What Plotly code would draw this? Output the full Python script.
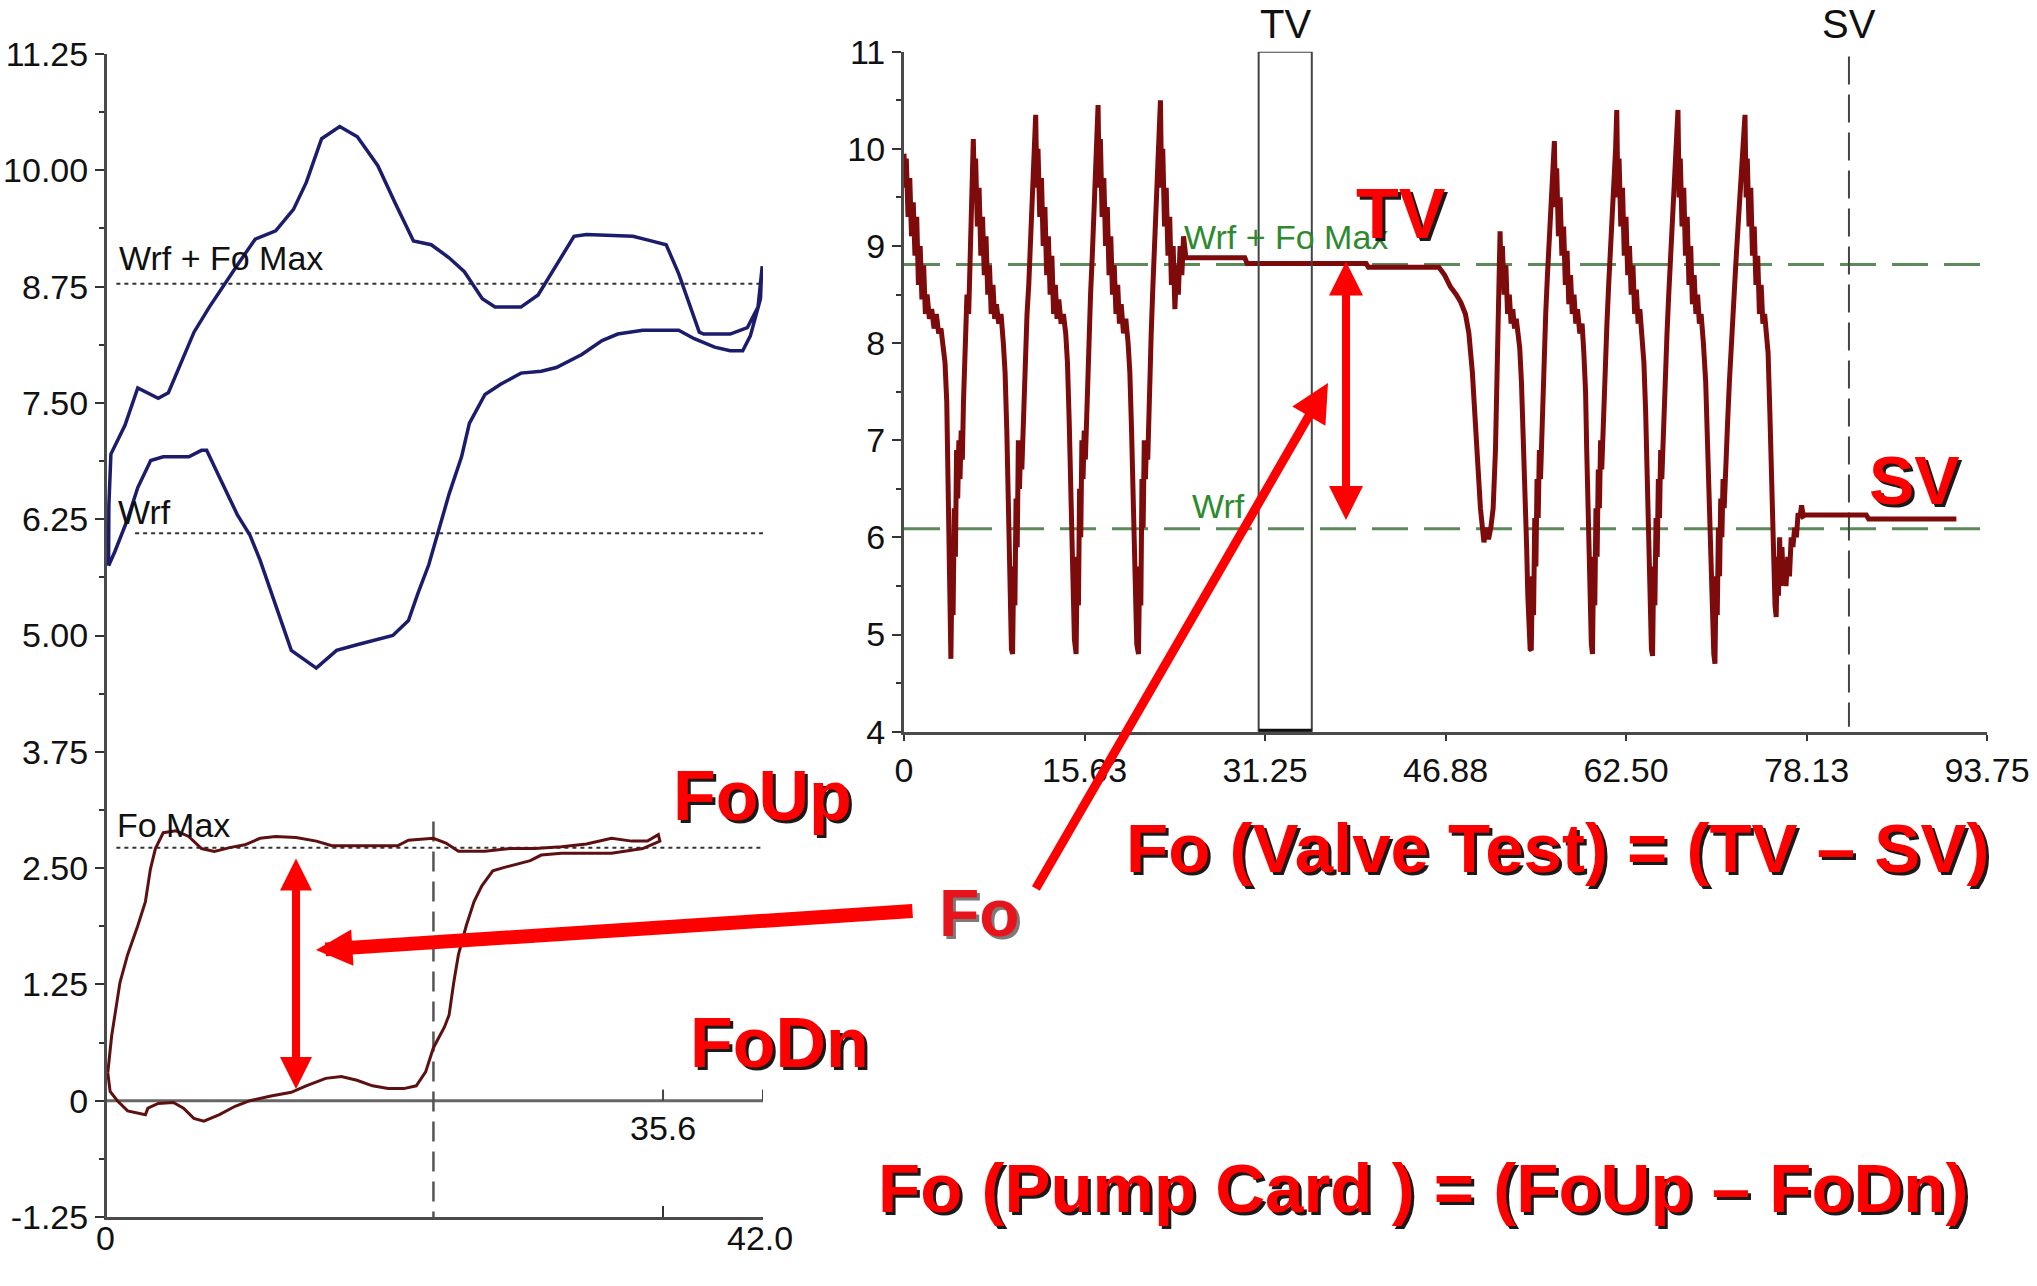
import plotly.graph_objects as go

W, H = 2037, 1286

# ---------------- data: surface card (blue, left chart) ----------------
SURF_X = [0.10, 0.12, 0.25, 1.15, 1.97, 2.6, 3.28, 3.93, 4.58, 5.57, 6.55, 7.69, 8.5, 9.49, 10.8,
          11.94, 12.76, 13.74, 14.9, 16.03, 17.34, 18.47, 19.62, 20.76, 21.9, 22.88, 24.03, 24.84,
          26.5, 27.6, 28.77, 29.9, 30.7, 33.67, 34.65, 35.8, 36.6, 37.3, 37.92, 38.2, 39.9, 41.0,
          41.68, 41.95,
          41.9, 41.84, 41.19, 40.7, 39.9, 38.9, 37.6, 36.6, 35.3, 34.3, 32.7, 31.7, 30.4, 28.77,
          27.8, 26.5, 25.2, 24.2, 23.2, 22.7, 21.9, 21.2, 20.6, 19.9, 19.3, 18.3, 17.3, 16.0, 14.7,
          13.4, 11.8, 10.8, 9.8, 9.15, 8.34, 7.2, 6.38, 6.05, 5.24, 3.6, 2.8, 1.97, 1.32, 0.5, 0.10]
SURF_Y = [5.75, 6.4, 6.95, 7.26, 7.66, 7.61, 7.55, 7.61, 7.86, 8.26, 8.53, 8.82, 9.02, 9.26, 9.35,
          9.58, 9.87, 10.34, 10.47, 10.36, 10.05, 9.64, 9.24, 9.2, 9.06, 8.91, 8.62, 8.53,
          8.53, 8.66, 8.98, 9.29, 9.31, 9.29, 9.25, 9.2, 8.89, 8.57, 8.26, 8.24, 8.24, 8.31,
          8.53, 8.97,
          8.88, 8.62, 8.22, 8.06, 8.06, 8.1, 8.19, 8.28, 8.28, 8.28, 8.24, 8.17, 8.02, 7.88,
          7.84, 7.82, 7.7, 7.59, 7.28, 6.92, 6.52, 6.12, 5.76, 5.45, 5.16, 5.0, 4.96, 4.9, 4.84,
          4.65, 4.84, 5.32, 5.81, 6.08, 6.3, 6.7, 6.99, 6.99, 6.92, 6.92, 6.88, 6.59, 6.25, 5.9, 5.75]

# ---------------- data: downhole pump card (brown, left chart) ----------------
DOWN_UP_X = [0.05, 0.3, 0.83, 1.32, 1.97, 2.46, 2.78, 3.1, 3.6, 4.42, 5.23, 6.05, 6.87, 7.85, 8.83,
             9.8, 10.8, 12.1, 13.4, 14.4, 16.0, 18.6, 19.3, 20.9, 21.7, 22.5, 24.2, 25.8, 27.4,
             29.1, 30.7, 32.3, 33.6, 34.6, 35.3]
DOWN_UP_Y = [0.3, 0.7, 1.27, 1.57, 1.88, 2.14, 2.49, 2.71, 2.88, 2.9, 2.84, 2.71, 2.68, 2.72, 2.75,
             2.82, 2.84, 2.83, 2.79, 2.74, 2.74, 2.74, 2.8, 2.82, 2.77, 2.68, 2.68, 2.71, 2.71,
             2.73, 2.76, 2.82, 2.79, 2.79, 2.86]
DOWN_LO_X = [35.4, 34.3, 32.3, 30.7, 29.1, 27.8, 27.1, 25.5, 24.7, 24.0, 23.5, 23.0, 22.5, 22.2,
             21.9, 21.6, 20.9, 20.4, 19.8, 19.0, 18.0, 17.0, 16.0, 15.0, 14.0, 12.75, 11.8, 10.5,
             9.15, 8.2, 7.2, 6.2, 5.56, 4.9, 4.25, 3.28, 2.62, 2.46, 1.97, 1.32, 0.66, 0.2, 0.05]
DOWN_LO_Y = [2.79, 2.71, 2.66, 2.66, 2.66, 2.64, 2.58, 2.51, 2.47, 2.31, 2.14, 1.88, 1.57, 1.27,
             0.92, 0.79, 0.57, 0.31, 0.16, 0.13, 0.13, 0.16, 0.22, 0.26, 0.24, 0.16, 0.09, 0.05,
             0.0, -0.06, -0.15, -0.22, -0.19, -0.08, -0.02, -0.03, -0.08, -0.15, -0.13, -0.11,
             0.0, 0.1, 0.3]

# reference levels (left chart)
WRF_FO_MAX_L = 8.78
WRF_L = 6.10
FO_MAX_L = 2.72
LEFT_Y_TICKS = [11.25, 10.0, 8.75, 7.5, 6.25, 5.0, 3.75, 2.5, 1.25, 0, -1.25]
LEFT_Y_TEXT = ["11.25", "10.00", "8.75", "7.50", "6.25", "5.00", "3.75", "2.50", "1.25", "0", "-1.25"]
LEFT_X_TICKS = [0, 35.6, 42.0]
LEFT_X_TEXT = ["0", "", "42.0"]
STROKE_POS = 35.6
CURSOR_L = 20.9

# ---------------- data: valve test trace (right chart), (time, load) pairs ----------------
SEG_A = [(0.0, 9.95), (0.1, 9.6), (0.2, 9.9), (0.35, 9.3), (0.5, 9.7), (0.65, 9.1), (0.8, 9.45),
         (0.95, 8.9), (1.1, 9.3), (1.25, 8.6), (1.4, 9.0), (1.55, 8.45), (1.7, 8.8), (1.85, 8.3),
         (2.0, 8.5), (2.2, 8.25), (2.4, 8.35), (2.6, 8.15), (2.8, 8.3), (3.0, 8.1), (3.2, 8.15),
         (3.4, 7.95), (3.55, 7.8), (3.7, 7.4), (3.8, 6.6), (3.9, 5.9), (4.0, 5.2), (4.06, 4.75),
         (4.15, 5.6), (4.25, 5.2), (4.35, 6.3), (4.45, 5.8), (4.55, 6.9), (4.65, 6.4), (4.75, 7.0),
         (4.85, 6.6), (4.95, 7.1), (5.05, 6.8), (5.15, 7.4), (5.3, 7.9), (5.45, 8.5), (5.6, 8.3),
         (5.75, 9.2), (5.9, 9.6), (6.0, 10.1)]
SEG_B = [(6.1, 9.5), (6.2, 9.9), (6.35, 9.2), (6.5, 9.6), (6.65, 8.9), (6.8, 9.3), (6.95, 8.7),
         (7.1, 9.1), (7.25, 8.5), (7.4, 8.8), (7.55, 8.3), (7.7, 8.6), (7.85, 8.25), (8.0, 8.4),
         (8.2, 8.2), (8.4, 8.3), (8.6, 8.0), (8.75, 7.7), (8.9, 7.1), (9.0, 6.4), (9.1, 5.7),
         (9.2, 5.1), (9.3, 4.85), (9.4, 4.8),
         (9.5, 5.7), (9.6, 5.3), (9.7, 6.4), (9.8, 5.9), (9.9, 7.0), (10.0, 6.5), (10.1, 7.0),
         (10.2, 6.7), (10.35, 7.4), (10.5, 7.8), (10.65, 8.3), (10.8, 8.6), (10.95, 9.0),
         (11.1, 9.4), (11.25, 9.8), (11.4, 10.35)]
SEG_C = [(11.5, 9.6), (11.6, 10.0), (11.75, 9.3), (11.9, 9.7), (12.05, 9.0), (12.2, 9.4),
         (12.35, 8.7), (12.5, 9.1), (12.65, 8.5), (12.8, 8.9), (12.95, 8.3), (13.1, 8.6),
         (13.25, 8.25), (13.4, 8.45), (13.6, 8.2), (13.8, 8.3), (14.0, 8.1), (14.15, 7.8),
         (14.3, 7.2), (14.45, 6.5), (14.55, 5.9), (14.65, 5.3), (14.75, 4.95), (14.9, 4.8),
         (15.0, 5.8), (15.1, 5.3), (15.2, 6.5), (15.3, 6.0), (15.4, 7.0), (15.5, 6.6), (15.6, 7.1),
         (15.7, 6.8), (15.85, 7.5), (16.0, 8.0), (16.15, 8.5), (16.3, 8.9), (16.45, 9.3),
         (16.6, 9.8), (16.7, 10.1), (16.8, 10.45)]
SEG_D = [(16.9, 9.6), (17.0, 10.1), (17.15, 9.3), (17.3, 9.7), (17.45, 9.0), (17.6, 9.4),
         (17.75, 8.7), (17.9, 9.1), (18.05, 8.5), (18.2, 8.8), (18.35, 8.3), (18.5, 8.6),
         (18.65, 8.2), (18.8, 8.4), (19.0, 8.1), (19.2, 8.25), (19.4, 8.0), (19.55, 7.7),
         (19.7, 7.1), (19.85, 6.4), (19.95, 5.8), (20.05, 5.2), (20.15, 4.9), (20.3, 4.8),
         (20.4, 5.7), (20.5, 5.3), (20.6, 6.6), (20.7, 6.1), (20.8, 7.0), (20.9, 6.6), (21.0, 7.0),
         (21.1, 6.8), (21.25, 7.6), (21.4, 8.1), (21.55, 8.6), (21.7, 9.0), (21.85, 9.4),
         (22.0, 9.9), (22.1, 10.2), (22.2, 10.5)]
SEG_E = [(22.3, 9.6), (22.4, 10.0), (22.55, 9.2), (22.7, 9.6), (22.85, 8.9), (23.0, 9.3),
         (23.15, 8.6), (23.3, 9.0), (23.45, 8.35), (23.6, 8.8), (23.75, 8.5), (23.9, 9.0),
         (24.05, 8.7), (24.2, 9.1), (24.4, 8.88), (29.5, 8.88), (29.7, 8.82), (40.0, 8.82),
         (40.2, 8.78), (46.3, 8.78)]
SEG_F = [(46.8, 8.7), (47.3, 8.58), (47.8, 8.5), (48.2, 8.42), (48.6, 8.3), (48.9, 8.1),
         (49.2, 7.7), (49.5, 7.2), (49.7, 6.7), (49.9, 6.3), (50.05, 6.05), (50.2, 5.95),
         (50.4, 6.1), (50.6, 5.98), (50.8, 6.1), (51.0, 6.3), (51.2, 6.9), (51.35, 7.8),
         (51.5, 8.7), (51.6, 9.15)]
SEG_G = [(51.7, 8.6), (51.8, 9.0), (51.95, 8.5), (52.1, 8.8), (52.25, 8.3), (52.4, 8.5),
         (52.55, 8.2), (52.7, 8.35), (52.85, 8.15), (53.0, 8.25), (53.15, 8.1), (53.3, 7.95),
         (53.45, 7.6), (53.6, 7.1), (53.75, 6.5), (53.9, 5.9), (54.0, 5.4), (54.1, 5.0),
         (54.2, 4.85), (54.3, 4.84),
         (54.4, 5.6), (54.5, 5.2), (54.6, 6.2), (54.7, 5.7), (54.8, 6.6), (54.9, 6.2), (55.0, 6.9),
         (55.1, 6.6), (55.25, 7.3), (55.4, 7.8), (55.55, 8.3), (55.7, 8.7), (55.85, 9.1),
         (56.0, 9.5), (56.15, 9.8), (56.3, 10.08)]
SEG_H = [(56.4, 9.4), (56.5, 9.8), (56.65, 9.1), (56.8, 9.5), (56.95, 8.9), (57.1, 9.2),
         (57.25, 8.6), (57.4, 8.95), (57.55, 8.4), (57.7, 8.7), (57.85, 8.3), (58.0, 8.5),
         (58.15, 8.2), (58.3, 8.35), (58.5, 8.1), (58.7, 8.2), (58.85, 7.9), (59.0, 7.5),
         (59.1, 6.9), (59.2, 6.3), (59.3, 5.7), (59.4, 5.2), (59.5, 4.9), (59.6, 4.8),
         (59.7, 5.8), (59.8, 5.3), (59.9, 6.3), (60.0, 5.8), (60.1, 6.7), (60.2, 6.3), (60.3, 7.0),
         (60.4, 6.7), (60.55, 7.3), (60.7, 7.7), (60.85, 8.2), (61.0, 8.6), (61.15, 8.9),
         (61.3, 9.3), (61.45, 9.7), (61.6, 10.0), (61.7, 10.4)]
SEG_I = [(61.8, 9.5), (61.9, 9.9), (62.05, 9.2), (62.2, 9.6), (62.35, 8.9), (62.5, 9.3),
         (62.65, 8.7), (62.8, 9.0), (62.95, 8.5), (63.1, 8.8), (63.25, 8.3), (63.4, 8.55),
         (63.55, 8.2), (63.7, 8.35), (63.9, 8.1), (64.05, 7.8), (64.2, 7.3), (64.3, 6.7),
         (64.4, 6.1), (64.5, 5.5), (64.6, 5.1), (64.7, 4.85), (64.8, 4.78),
         (64.9, 5.7), (65.0, 5.3), (65.1, 6.2), (65.2, 5.8), (65.3, 6.6), (65.4, 6.2), (65.5, 6.9),
         (65.6, 6.6), (65.75, 7.2), (65.9, 7.7), (66.05, 8.1), (66.2, 8.5), (66.35, 8.9),
         (66.5, 9.3), (66.65, 9.6), (66.8, 9.9), (67.0, 10.4)]
SEG_J = [(67.1, 9.5), (67.2, 9.9), (67.35, 9.2), (67.5, 9.6), (67.65, 8.9), (67.8, 9.3),
         (67.95, 8.6), (68.1, 9.0), (68.25, 8.4), (68.4, 8.7), (68.55, 8.3), (68.7, 8.5),
         (68.85, 8.2), (69.0, 8.3), (69.2, 8.0), (69.4, 7.6), (69.55, 7.0), (69.7, 6.4),
         (69.8, 5.8), (69.9, 5.3), (70.0, 4.95), (70.1, 4.8), (70.2, 4.7),
         (70.3, 5.6), (70.4, 5.2), (70.5, 6.1), (70.6, 5.6), (70.7, 6.4), (70.8, 6.0), (70.9, 6.6),
         (71.0, 6.3), (71.15, 6.9), (71.3, 7.2), (71.45, 7.6), (71.6, 8.0), (71.8, 8.4),
         (72.0, 8.8), (72.2, 9.2), (72.4, 9.6), (72.6, 9.9), (72.8, 10.35)]
SEG_K = [(72.9, 9.5), (73.0, 9.9), (73.15, 9.2), (73.3, 9.6), (73.45, 8.9), (73.6, 9.2),
         (73.75, 8.6), (73.9, 8.9), (74.05, 8.3), (74.2, 8.6), (74.35, 8.2), (74.5, 8.3),
         (74.65, 8.1), (74.8, 7.9), (74.95, 7.3), (75.1, 6.6), (75.2, 6.0), (75.3, 5.6),
         (75.4, 5.3), (75.5, 5.18),
         (75.6, 5.8), (75.7, 5.4), (75.8, 6.0), (75.9, 5.5), (76.0, 5.9), (76.1, 5.6), (76.2, 5.7),
         (76.35, 5.5), (76.5, 5.8), (76.65, 5.6), (76.8, 6.0), (76.95, 5.9), (77.1, 6.1),
         (77.25, 6.0), (77.4, 6.25), (77.55, 6.2), (77.7, 6.33), (77.85, 6.22), (78.0, 6.23),
         (83.3, 6.23), (83.5, 6.19), (91.1, 6.19)]
VALVE_SEGMENTS = [SEG_A, SEG_B, SEG_C, SEG_D, SEG_E, SEG_F, SEG_G, SEG_H, SEG_I, SEG_J, SEG_K]

# reference levels (right chart)
WRF_FO_MAX_R = 8.81
WRF_R = 6.09
TV_WINDOW = (30.7, 35.3)
SV_POS = 81.8
RIGHT_X_TICKS = [0, 15.63, 31.25, 46.88, 62.50, 78.13, 93.75]
RIGHT_X_TEXT = ["0", "15.63", "31.25", "46.88", "62.50", "78.13", "93.75"]
RIGHT_Y_TICKS = [4, 5, 6, 7, 8, 9, 10, 11]

# ---------------- styling ----------------
NARROW = "Liberation Sans Narrow, Arial Narrow, Liberation Sans, Arial, sans-serif"
BOLD = "Liberation Sans, Arial, sans-serif"
TICKFONT = dict(family=NARROW, size=34, color="#111111")
AXIS_COL = "#4a4a4a"
RED = "#ff0000"


def px(x):
    return x / W


def py(y):
    return 1 - y / H


valve_t = [p[0] for seg in VALVE_SEGMENTS for p in seg]
valve_v = [p[1] for seg in VALVE_SEGMENTS for p in seg]

fig = go.Figure()

fig.add_trace(go.Scatter(x=SURF_X, y=SURF_Y, mode="lines", xaxis="x", yaxis="y",
                         line=dict(color="#1c1c6c", width=3.5), hoverinfo="skip"))
fig.add_trace(go.Scatter(x=DOWN_UP_X + DOWN_LO_X, y=DOWN_UP_Y + DOWN_LO_Y, mode="lines",
                         xaxis="x", yaxis="y", line=dict(color="#5e1010", width=3),
                         hoverinfo="skip"))
fig.add_trace(go.Scatter(x=valve_t, y=valve_v, mode="lines", xaxis="x2", yaxis="y2",
                         line=dict(color="#7e0b0b", width=5), hoverinfo="skip"))

shapes = []
# left chart reference lines
for lvl, x0 in [(WRF_FO_MAX_L, 0.6), (WRF_L, 1.8), (FO_MAX_L, 0.6)]:
    shapes.append(dict(type="line", xref="x", yref="y", x0=x0, x1=42, y0=lvl, y1=lvl,
                       line=dict(color="#333333", width=2, dash="4px,4px"), layer="below"))
# card zero line with its ticks
shapes.append(dict(type="line", xref="x", yref="y", x0=-0.5, x1=42, y0=0, y1=0,
                   line=dict(color="#666666", width=3), layer="below"))
for xv in [STROKE_POS, 42.0]:
    shapes.append(dict(type="line", xref="x", yref="y", x0=xv, x1=xv, y0=0, y1=0.12,
                       line=dict(color="#444444", width=2)))
# cursor line on pump card
shapes.append(dict(type="line", xref="x", yref="y", x0=CURSOR_L, x1=CURSOR_L, y0=3.0, y1=-1.25,
                   line=dict(color="#555555", width=2.5, dash="20px,10px"), layer="below"))
# right chart reference lines
for lvl in [WRF_FO_MAX_R, WRF_R]:
    shapes.append(dict(type="line", xref="x2", yref="y2", x0=0, x1=93.75, y0=lvl, y1=lvl,
                       line=dict(color="#5b8a5b", width=3, dash="36px,16px"), layer="below"))
# TV window and SV cursor
shapes.append(dict(type="rect", xref="x2", yref="y2", x0=TV_WINDOW[0], x1=TV_WINDOW[1],
                   y0=4, y1=11, line=dict(color="#444444", width=2)))
shapes.append(dict(type="line", xref="x2", yref="y2", x0=TV_WINDOW[0], x1=TV_WINDOW[1],
                   y0=4.01, y1=4.01, line=dict(color="#111111", width=4)))
shapes.append(dict(type="line", xref="x2", yref="y2", x0=SV_POS, x1=SV_POS, y0=10.95, y1=4.05,
                   line=dict(color="#444444", width=2, dash="28px,10px"), layer="below"))

ann = []


def label(text, x, y, size=34, color="#111111", family=NARROW, xref="paper", yref="paper",
          xanchor="center", yanchor="middle", xshift=0, yshift=0):
    ann.append(dict(text=text, x=x, y=y, xref=xref, yref=yref, showarrow=False,
                    xshift=xshift, yshift=yshift, xanchor=xanchor, yanchor=yanchor,
                    font=dict(family=family, size=size, color=color)))


def red_text(text, cx, cy, size=70, color=RED, shadow="#1a1a1a", off=3):
    for col, sh in [(shadow, off), (color, 0)]:
        ann.append(dict(text="<b>" + text + "</b>", x=px(cx), y=py(cy), xref="paper", yref="paper",
                        showarrow=False, xshift=sh, yshift=-sh, xanchor="center", yanchor="middle",
                        font=dict(family=BOLD, size=size, color=col)))


def arrow(tip, tail, width, size, both=False, color=RED):
    ann.append(dict(text="", x=px(tip[0]), y=py(tip[1]), xref="paper", yref="paper",
                    ax=tail[0] - tip[0], ay=tail[1] - tip[1], showarrow=True,
                    arrowhead=2, startarrowhead=2, arrowsize=size, startarrowsize=size,
                    arrowwidth=width, arrowcolor=color, standoff=0, startstandoff=0,
                    arrowside="end+start" if both else "end"))


# chart labels (black / green)
label("Wrf + Fo Max", px(221), py(258), size=34)
label("Wrf", px(144), py(512), size=34)
label("Fo Max", px(173), py(825), size=34)
label("35.6", STROKE_POS, 0, size=34, xref="x", yref="y", yanchor="top", yshift=-6)
for xv, txt in zip(LEFT_X_TICKS, LEFT_X_TEXT):
    if txt:
        label(txt, xv, py(1238), size=34, xref="x", xshift=-3 if xv > 0 else -2)
label("Wrf + Fo Max", px(1286), py(237), size=34, color="#2f8a2f")
label("Wrf", px(1218), py(506), size=34, color="#2f8a2f")
label("TV", sum(TV_WINDOW) / 2, py(24), size=40, xref="x2")
label("SV", SV_POS, py(24), size=40, xref="x2")

# red arrows
arrow((296, 1089), (296, 857), 8, 0.8, both=True)
arrow((316, 950), (914, 911), 14, 0.52)
arrow((1328, 383), (1035, 890), 9, 0.85)
arrow((1346, 520), (1346, 260), 8, 0.85, both=True)

# red annotation texts
red_text("TV", 1401, 214, size=70)
red_text("SV", 1914, 480, size=68)
red_text("FoUp", 762, 796, size=70)
red_text("FoDn", 779, 1043, size=70)
red_text("Fo", 979, 913, size=66, color="#e8141c", shadow="#7a7a7a")
red_text("Fo (Valve Test) = (TV \u2013 SV)", 1557, 848, size=69)
red_text("Fo (Pump Card ) = (FoUp \u2013 FoDn)", 1423, 1188, size=69)

fig.update_layout(
    width=W, height=H, margin=dict(l=0, r=0, t=0, b=0, autoexpand=False),
    paper_bgcolor="white", plot_bgcolor="white", showlegend=False,
    shapes=shapes, annotations=ann,
    xaxis=dict(domain=[px(107), px(763)], range=[0, 42], anchor="y", automargin=False,
               showline=True, linecolor=AXIS_COL, linewidth=3, showgrid=False, zeroline=False,
               tickmode="array", tickvals=LEFT_X_TICKS, showticklabels=False,
               ticks="inside", ticklen=11, tickwidth=2, tickcolor="#333333"),
    yaxis=dict(domain=[py(1217), py(54)], range=[-1.25, 11.25], anchor="x", automargin=False,
               showline=True, linecolor=AXIS_COL, linewidth=3, showgrid=False, zeroline=False,
               tickmode="array", tickvals=LEFT_Y_TICKS, ticktext=LEFT_Y_TEXT,
               ticks="outside", ticklen=9, tickwidth=2, tickcolor="#333333", tickfont=TICKFONT,
               minor=dict(tickmode="linear", tick0=-1.25, dtick=0.625, ticks="outside",
                          ticklen=5, tickwidth=2, tickcolor="#333333")),
    xaxis2=dict(domain=[px(904), px(1987)], range=[0, 93.75], anchor="y2", automargin=False,
                showline=True, linecolor=AXIS_COL, linewidth=3, showgrid=False, zeroline=False,
                tickmode="array", tickvals=RIGHT_X_TICKS, ticktext=RIGHT_X_TEXT,
                ticks="outside", ticklen=6, tickwidth=2, tickcolor="#333333", tickfont=TICKFONT),
    yaxis2=dict(domain=[py(731.7), py(51.7)], range=[4, 11], anchor="x2", automargin=False,
                showline=True, linecolor=AXIS_COL, linewidth=3, showgrid=False, zeroline=False,
                tickmode="array", tickvals=RIGHT_Y_TICKS, ticktext=[str(v) for v in RIGHT_Y_TICKS],
                ticks="outside", ticklen=9, tickwidth=2, tickcolor="#333333", tickfont=TICKFONT,
                minor=dict(tickmode="linear", tick0=4, dtick=0.5, ticks="outside",
                           ticklen=5, tickwidth=2, tickcolor="#333333")),
)

fig.write_html("out.html",
               post_script="document.documentElement.style.margin='0';"
                           "document.body.style.margin='0';document.body.style.padding='0';")
